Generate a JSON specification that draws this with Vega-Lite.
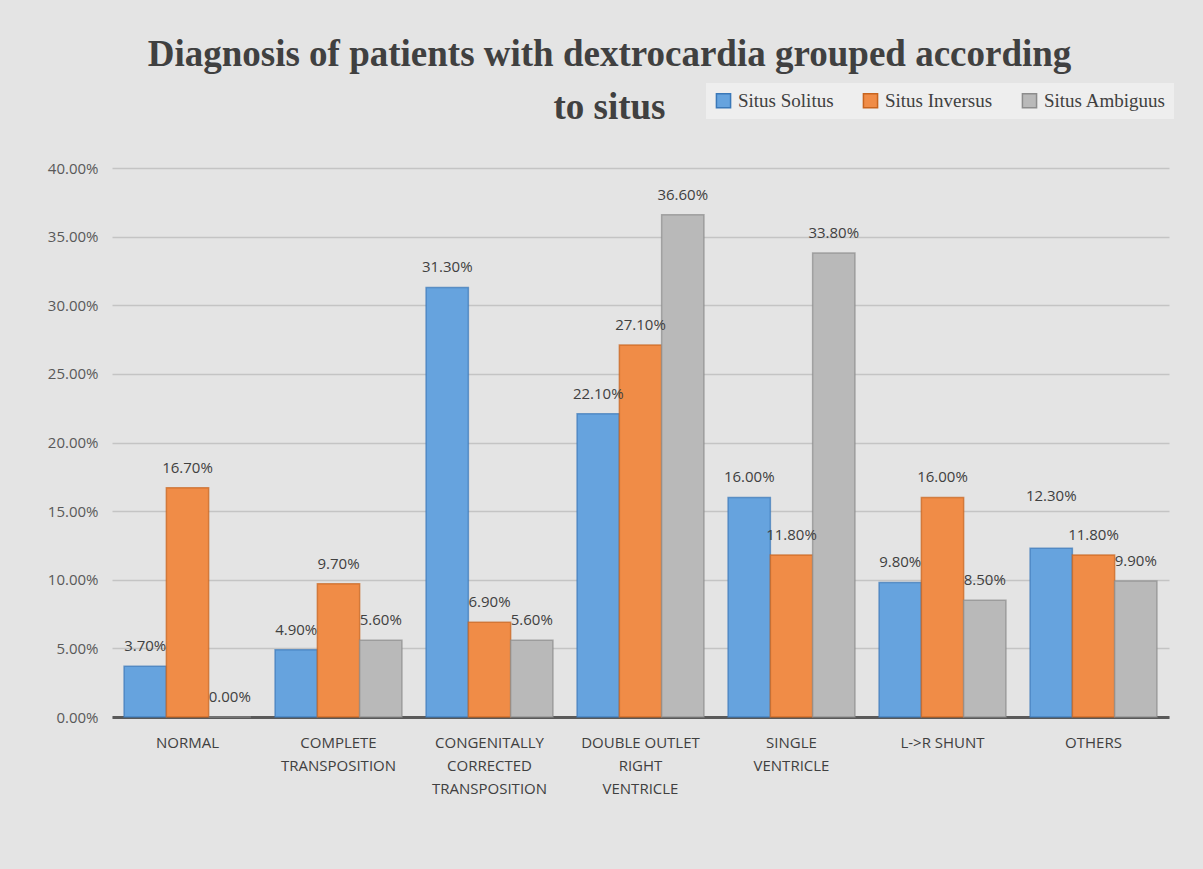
{
  "$schema": "https://vega.github.io/schema/vega-lite/v6.json",
  "autosize": "none",
  "width": 1057,
  "height": 549,
  "padding": {"left": 112, "top": 168, "right": 34, "bottom": 152},
  "background": "#e4e4e4",
  "config": {"view": {"stroke": null}},
  "title": {
    "text": ["Diagnosis of patients with dextrocardia grouped according", "to situs"],
    "font": "Liberation Serif",
    "fontSize": 37,
    "fontWeight": "bold",
    "color": "#404040",
    "anchor": "middle",
    "frame": "group",
    "dx": -31,
    "offset": -44,
    "lineHeight": 53
  },
  "data": {
    "values": [
      {"diagnosis": "NORMAL", "situs": "Situs Solitus", "value": 0.037},
      {"diagnosis": "NORMAL", "situs": "Situs Inversus", "value": 0.167},
      {"diagnosis": "NORMAL", "situs": "Situs Ambiguus", "value": 0.0},
      {"diagnosis": "COMPLETE TRANSPOSITION", "situs": "Situs Solitus", "value": 0.049},
      {"diagnosis": "COMPLETE TRANSPOSITION", "situs": "Situs Inversus", "value": 0.097},
      {"diagnosis": "COMPLETE TRANSPOSITION", "situs": "Situs Ambiguus", "value": 0.056},
      {"diagnosis": "CONGENITALLY CORRECTED TRANSPOSITION", "situs": "Situs Solitus", "value": 0.313},
      {"diagnosis": "CONGENITALLY CORRECTED TRANSPOSITION", "situs": "Situs Inversus", "value": 0.069},
      {"diagnosis": "CONGENITALLY CORRECTED TRANSPOSITION", "situs": "Situs Ambiguus", "value": 0.056},
      {"diagnosis": "DOUBLE OUTLET RIGHT VENTRICLE", "situs": "Situs Solitus", "value": 0.221},
      {"diagnosis": "DOUBLE OUTLET RIGHT VENTRICLE", "situs": "Situs Inversus", "value": 0.271},
      {"diagnosis": "DOUBLE OUTLET RIGHT VENTRICLE", "situs": "Situs Ambiguus", "value": 0.366},
      {"diagnosis": "SINGLE VENTRICLE", "situs": "Situs Solitus", "value": 0.16},
      {"diagnosis": "SINGLE VENTRICLE", "situs": "Situs Inversus", "value": 0.118},
      {"diagnosis": "SINGLE VENTRICLE", "situs": "Situs Ambiguus", "value": 0.338},
      {"diagnosis": "L->R SHUNT", "situs": "Situs Solitus", "value": 0.098},
      {"diagnosis": "L->R SHUNT", "situs": "Situs Inversus", "value": 0.16},
      {"diagnosis": "L->R SHUNT", "situs": "Situs Ambiguus", "value": 0.085},
      {"diagnosis": "OTHERS", "situs": "Situs Solitus", "value": 0.123},
      {"diagnosis": "OTHERS", "situs": "Situs Inversus", "value": 0.118},
      {"diagnosis": "OTHERS", "situs": "Situs Ambiguus", "value": 0.099}
    ]
  },
  "encoding": {
    "x": {
      "field": "diagnosis",
      "type": "nominal",
      "sort": null,
      "title": null,
      "scale": {"paddingInner": 0.16, "paddingOuter": 0.08},
      "axis": {
        "labelAngle": 0,
        "labelFont": "Open Sans",
        "labelFontSize": 15,
        "labelColor": "#404040",
        "labelPadding": 18,
        "labelLineHeight": 23,
        "ticks": false,
        "domainColor": "#595959",
        "domainWidth": 3,
        "labelExpr": "datum.label == 'COMPLETE TRANSPOSITION' ? ['COMPLETE', 'TRANSPOSITION'] : datum.label == 'CONGENITALLY CORRECTED TRANSPOSITION' ? ['CONGENITALLY', 'CORRECTED', 'TRANSPOSITION'] : datum.label == 'DOUBLE OUTLET RIGHT VENTRICLE' ? ['DOUBLE OUTLET', 'RIGHT', 'VENTRICLE'] : datum.label == 'SINGLE VENTRICLE' ? ['SINGLE', 'VENTRICLE'] : datum.label"
      }
    },
    "xOffset": {"field": "situs", "type": "nominal", "sort": ["Situs Solitus", "Situs Inversus", "Situs Ambiguus"]},
    "y": {
      "field": "value",
      "type": "quantitative",
      "title": null,
      "scale": {"domain": [0, 0.4]},
      "axis": {
        "format": ".2%",
        "values": [0, 0.05, 0.1, 0.15, 0.2, 0.25, 0.3, 0.35, 0.4],
        "labelFont": "Open Sans",
        "labelFontSize": 15,
        "labelColor": "#595959",
        "labelPadding": 14,
        "ticks": false,
        "domain": false,
        "gridColor": "#c4c4c4",
        "gridWidth": 1.5
      }
    }
  },
  "layer": [
    {
      "mark": {"type": "bar", "strokeWidth": 1.5, "strokeOpacity": 0.7},
      "encoding": {
        "color": {
          "field": "situs",
          "type": "nominal",
          "sort": ["Situs Solitus", "Situs Inversus", "Situs Ambiguus"],
          "scale": {"domain": ["Situs Solitus", "Situs Inversus", "Situs Ambiguus"], "range": ["#66a3de", "#f08c47", "#b9b9b9"]},
          "legend": {
            "title": null,
            "orient": "none",
            "direction": "horizontal",
            "legendX": 594,
            "legendY": -85,
            "symbolType": "square",
            "symbolSize": 200,
            "symbolStrokeWidth": 1.5,
            "labelFont": "Liberation Serif",
            "labelFontSize": 19,
            "labelColor": "#404040",
            "labelOffset": 5,
            "columnPadding": 26,
            "fillColor": "#eeeeee",
            "padding": 8
          }
        },
        "stroke": {
          "field": "situs",
          "type": "nominal",
          "scale": {"domain": ["Situs Solitus", "Situs Inversus", "Situs Ambiguus"], "range": ["#3a78b8", "#c8641e", "#8c8c8c"]},
          "legend": null
        }
      }
    },
    {
      "transform": [{"filter": "!(datum.diagnosis == 'OTHERS' && datum.situs == 'Situs Solitus')"}],
      "mark": {"type": "text", "dy": -20, "font": "Open Sans", "fontSize": 15, "color": "#404040"},
      "encoding": {
        "text": {"field": "value", "type": "quantitative", "format": ".2%"}
      }
    },
    {
      "transform": [{"filter": "datum.diagnosis == 'OTHERS' && datum.situs == 'Situs Solitus'"}],
      "mark": {"type": "text", "dy": -52, "font": "Open Sans", "fontSize": 15, "color": "#404040"},
      "encoding": {
        "text": {"field": "value", "type": "quantitative", "format": ".2%"}
      }
    }
  ]
}
